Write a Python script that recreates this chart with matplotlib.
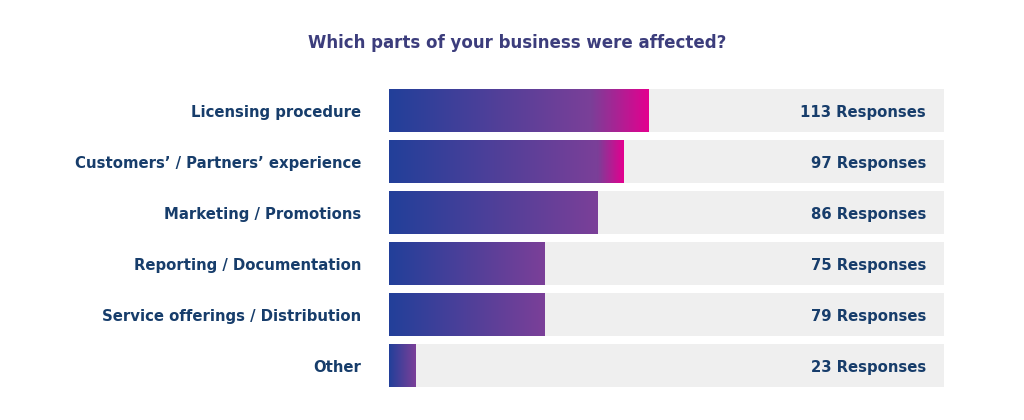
import numpy as np
import matplotlib
matplotlib.use("Agg")
import matplotlib.pyplot as plt
from matplotlib.colors import LinearSegmentedColormap

# data
categories = ["Licensing procedure", "Customers’ / Partners’ experience",
              "Marketing / Promotions", "Reporting / Documentation",
              "Service offerings / Distribution", "Other"]
responses = [113, 97, 86, 75, 79, 23]
# bar lengths as share of the grey track (they are not proportional to responses)
bar_share = [46.8, 42.3, 37.5, 28.1, 28.1, 4.7]
# where the magenta tail starts, as fraction of the bar (None = no tail)
magenta_from = [0.78, 0.89, None, None, None, None]

blue, purple, magenta = "#22409a", "#7b3f98", "#e3008f"
label_col = "#173d6b"
title_col = "#3c3d7c"

plt.rcParams['font.family'] = ['DejaVu Sans']

fig = plt.figure(figsize=(10.24, 4.2), dpi=100)
ax = fig.add_axes([389 / 1024, 1 - 387 / 420, (944 - 389) / 1024, (387 - 89) / 420])

h = 43 / 51
ypos = np.arange(len(categories))

ax.barh(ypos, [100] * len(categories), height=h, color="#efefef", zorder=1)

grad = np.linspace(0, 1, 256).reshape(1, -1)
for y, v, m in zip(ypos, bar_share, magenta_from):
    if m is None:
        cmap = LinearSegmentedColormap.from_list("g", [blue, purple])
    else:
        cmap = LinearSegmentedColormap.from_list("g", [(0, blue), (m, purple), (1, magenta)])
    ax.imshow(grad, cmap=cmap, aspect="auto", extent=(0, v, y + h / 2, y - h / 2),
              zorder=2, interpolation="bilinear")

for y, lab, r in zip(ypos, categories, responses):
    ax.text(-5.0, y + 0.04, lab, ha="right", va="center", fontsize=10.7, fontweight="bold",
            color=label_col, clip_on=False)
    ax.text(96.8, y + 0.04, f"{r} Responses", ha="right", va="center", fontsize=10.7,
            fontweight="bold", color=label_col, zorder=3)

ax.set_xlim(0, 100)
ax.set_ylim(len(categories) - 1 + h / 2, -h / 2)
ax.set_axis_off()

fig.text(517 / 1024, 1 - 43 / 420, "Which parts of your business were affected?",
         ha="center", va="center", fontsize=12, fontweight="bold", color=title_col)

fig.savefig("out.png", dpi=100, facecolor="white")
